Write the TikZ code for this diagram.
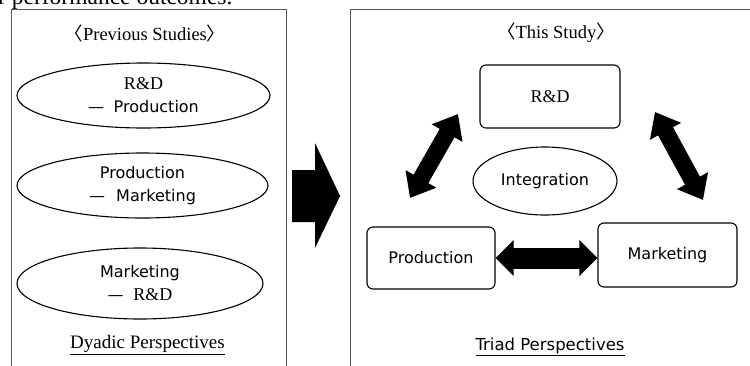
\documentclass[tikz,border=0pt]{standalone}
\usepackage{fontspec}
\setmainfont{Liberation Serif}
\newfontfamily\sansf{DejaVu Sans}
\newfontfamily\cjk{Noto Sans CJK JP}
\usetikzlibrary{shapes.geometric,arrows.meta}
\tikzset{
  panel/.style={draw=black!65, line width=0.9pt},
  oval/.style={draw=black, line width=1.1pt, ellipse, inner sep=0pt, align=center,
    font=\sansf\fontsize{16}{23}\selectfont},
  fbox/.style={draw=black, line width=1.1pt, rounded corners=6pt, inner sep=0pt,
    font=\sansf\fontsize{16}{19}\selectfont},
  dbl/.style={line width=#1, -{Triangle[width=34pt,length=22pt]}},
  big/.style={line width=17pt, {Triangle[width=34pt,length=22pt]}-{Triangle[width=34pt,length=22pt]}},
  hbig/.style={line width=21pt, {Triangle[width=35pt,length=18pt]}-{Triangle[width=35pt,length=18pt]}},
  ttl/.style={font=\fontsize{18.5}{22}\selectfont, inner sep=0pt},
}
\begin{document}
\begin{tikzpicture}[x=1pt,y=-1pt]
\useasboundingbox (0,0) rectangle (750,365);
\clip (0,0) rectangle (750,365);
% cropped caption line from the page above
\node[anchor=base west, inner sep=0pt, font=\fontsize{23.5}{26}\selectfont] (cap) at (-2,4.5) {r performance outcomes.};
% panels
\draw[panel] (11.7,9.3) rectangle (286,380);
\draw[panel] (350,9.3) rectangle (780,380);
% left panel
\node[ttl] (t1) at (145,33) {{\cjk 〈}Previous Studies{\cjk 〉}};
\node[oval, minimum width=253pt, minimum height=65pt] (e1) at (143.5,95.5)
  {\raisebox{-3pt}{\fontsize{18}{23}\rmfamily R\&D}\\ \raisebox{-3pt}{—\hspace{0.6em}Production}};
\node[oval, minimum width=251pt, minimum height=65pt] (e2) at (142.5,185.5)
  {Production\\ —\hspace{0.7em}Marketing};
\node[oval, minimum width=246pt, minimum height=71pt] (e3) at (140,283.5)
  {Marketing\\ —\hspace{0.6em}{\fontsize{18}{23}\rmfamily R\&D}};
\node[inner sep=0pt, font=\fontsize{19}{22}\selectfont] (dy) at (147.5,345) {\underline{Dyadic Perspectives}};
% big arrow
\fill (292,170) -- (315,170) -- (315,143) -- (340,196) -- (315,248) -- (315,222) -- (292,222) -- cycle;
% right panel
\node[ttl] (t2) at (556,33) {{\cjk 〈}This Study{\cjk 〉}};
\node[fbox, minimum width=140pt, minimum height=63pt, font=\fontsize{18}{22}\selectfont] (rd) at (550,96.5) {R\&D};
\node[fbox, minimum width=128pt, minimum height=62pt] (pr) at (431,258) {Production};
\node[fbox, minimum width=139pt, minimum height=64pt] (mk) at (667.5,255) {Marketing};
\node[oval, minimum width=144pt, minimum height=68pt] (in) at (545,181) {Integration};
\node[inner sep=0pt, font=\sansf\fontsize{16.5}{20}\selectfont] (tr) at (550,347) {\underline{Triad Perspectives}};
% connectors
\coordinate (l1) at (410,198);
\coordinate (l2) at (458,114);
\coordinate (r1) at (655,112);
\coordinate (r2) at (703,200);
\draw[big] (l1) -- (l2);
\draw[big] (r1) -- (r2);
\draw[hbig] (pr.east) -- (mk.west |- pr.east);
\end{tikzpicture}
\end{document}
